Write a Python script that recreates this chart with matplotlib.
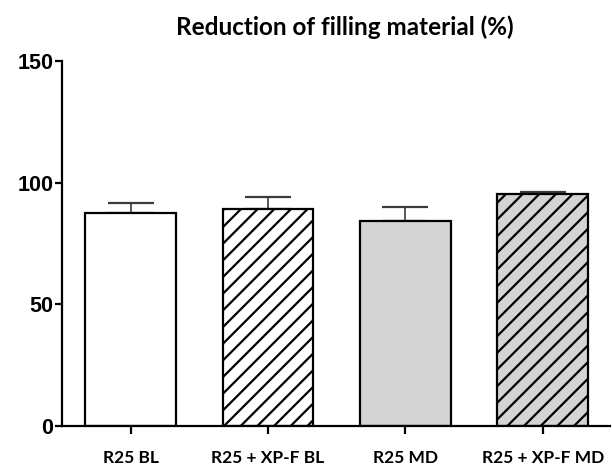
import matplotlib.pyplot as plt

plt.rcParams['hatch.linewidth'] = 1.6

# data
groups = ['R25 BL', 'R25 + XP-F BL', 'R25 MD', 'R25 + XP-F MD']
means = [87.3, 89.2, 84.1, 95.3]
sd_up = [4.2, 5.0, 6.0, 0.8]
colors = ['white', 'white', '#d4d4d4', '#d4d4d4']
hatches = ['', '//', '', '//']

fig = plt.figure(figsize=(6.12, 4.71), dpi=100)
ax = fig.add_axes([0.101, 0.0955, 0.896, 0.7755])

x = range(len(groups))
ax.bar(x, means, width=0.66, color=colors, edgecolor='black', linewidth=1.6,
       hatch=hatches, zorder=2)
ax.errorbar(x, means, yerr=[[0] * len(sd_up), sd_up], fmt='none', ecolor='#3a3a3a',
            elinewidth=1.2, capsize=16.5, capthick=1.6, zorder=1)

ax.set_xlim(-0.5, 3.49)
ax.set_ylim(0, 150)
ax.set_yticks([0, 50, 100, 150])
ax.set_xticks(list(x))
ax.set_xticklabels(groups, fontfamily='Lato', fontweight='bold', fontsize=12.5)
for lab in ax.get_yticklabels():
    lab.set_fontfamily('Liberation Sans')
    lab.set_fontweight('bold')
    lab.set_fontsize(15.5)

ax.spines['top'].set_visible(False)
ax.spines['right'].set_visible(False)
ax.spines['left'].set_linewidth(1.6)
ax.spines['bottom'].set_linewidth(1.6)
ax.tick_params(axis='y', length=5, width=1.6, pad=1)
ax.tick_params(axis='x', length=6, width=1.6, pad=11)

fig.text(0.564, 0.926, 'Reduction of filling material (%)', ha='center', va='baseline',
         fontfamily='Lato', fontweight='bold', fontsize=17.5)

fig.savefig('out.png', dpi=100)
